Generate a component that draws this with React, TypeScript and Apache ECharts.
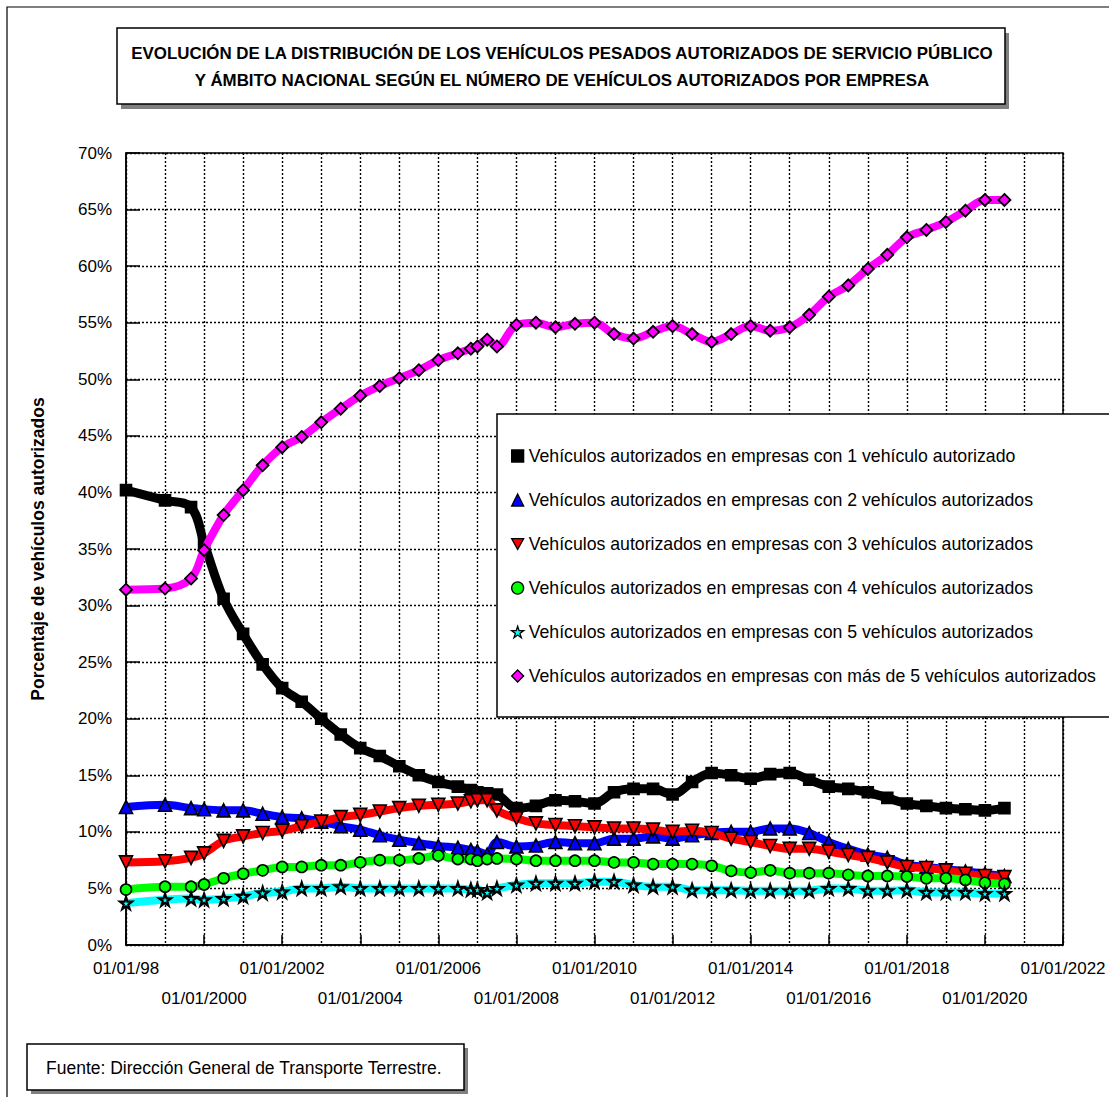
import React, { useEffect, useRef } from "react";
import * as echarts from "echarts";

const FONT = "'Liberation Sans', Arial, sans-serif";

const dates = [
  "1998-01-01", "1999-01-01", "1999-09-01",
  "2000-01-01", "2000-07-01", "2001-01-01", "2001-07-01", "2002-01-01", "2002-07-01",
  "2003-01-01", "2003-07-01", "2004-01-01", "2004-07-01", "2005-01-01", "2005-07-01",
  "2006-01-01", "2006-07-01", "2006-11-01", "2007-01-01", "2007-04-01", "2007-07-01",
  "2008-01-01", "2008-07-01", "2009-01-01", "2009-07-01", "2010-01-01", "2010-07-01",
  "2011-01-01", "2011-07-01", "2012-01-01", "2012-07-01", "2013-01-01", "2013-07-01",
  "2014-01-01", "2014-07-01", "2015-01-01", "2015-07-01", "2016-01-01", "2016-07-01",
  "2017-01-01", "2017-07-01", "2018-01-01", "2018-07-01", "2019-01-01", "2019-07-01",
  "2020-01-01", "2020-07-01",
];

const seriesNames = [
  "Vehículos autorizados en empresas con 1 vehículo autorizado",
  "Vehículos autorizados en empresas con 2 vehículos autorizados",
  "Vehículos autorizados en empresas con 3 vehículos autorizados",
  "Vehículos autorizados en empresas con 4 vehículos autorizados",
  "Vehículos autorizados en empresas con 5 vehículos autorizados",
  "Vehículos autorizados en empresas con más de 5 vehículos autorizados",
];

const one = [
  40.2, 39.3, 38.7, 35.5, 30.6, 27.5, 24.8, 22.7, 21.5, 20.0, 18.6, 17.4, 16.7, 15.8, 15.0,
  14.4, 14.0, 13.7, 13.5, 13.4, 13.3, 12.1, 12.3, 12.8, 12.7, 12.5, 13.5, 13.8, 13.8, 13.3,
  14.4, 15.2, 15.0, 14.7, 15.1, 15.2, 14.6, 14.0, 13.8, 13.5, 13.0, 12.5, 12.3, 12.1, 12.0,
  11.9, 12.1,
];
const two = [
  12.2, 12.4, 12.1, 12.0, 11.9, 11.9, 11.6, 11.3, 11.2, 10.9, 10.5, 10.2, 9.7, 9.3, 9.0,
  8.75, 8.6, 8.4, 8.3, 8.0, 9.1, 8.7, 8.8, 9.1, 9.0, 9.0, 9.4, 9.4, 9.6, 9.4,
  9.7, 9.9, 10.0, 10.0, 10.3, 10.3, 9.9, 9.1, 8.5, 8.0, 7.7, 7.1, 6.9, 6.7, 6.5,
  6.3, 6.1,
];
const three = [
  7.3, 7.4, 7.7, 8.1, 9.2, 9.6, 9.9, 10.1, 10.5, 10.9, 11.3, 11.5, 11.8, 12.1, 12.3,
  12.4, 12.5, 12.7, 12.8, 12.8, 11.9, 11.2, 10.75, 10.6, 10.5, 10.4, 10.3, 10.3, 10.2, 10.0,
  10.1, 9.9, 9.4, 9.1, 8.75, 8.5, 8.5, 8.25, 7.95, 7.7, 7.3, 6.9, 6.8, 6.6, 6.3,
  6.1, 6.0,
];
const four = [
  4.9, 5.15, 5.15, 5.35, 5.9, 6.3, 6.6, 6.9, 6.9, 7.05, 7.05, 7.3, 7.5, 7.5, 7.65,
  7.9, 7.6, 7.6, 7.45, 7.6, 7.65, 7.6, 7.45, 7.45, 7.45, 7.45, 7.3, 7.3, 7.15, 7.15,
  7.15, 7.0, 6.55, 6.4, 6.6, 6.35, 6.35, 6.35, 6.2, 6.1, 6.1, 6.05, 5.9, 5.9, 5.75,
  5.5, 5.4,
];
const five = [
  3.7, 4.0, 4.1, 4.0, 4.1, 4.3, 4.6, 4.7, 5.0, 5.0, 5.15, 5.0, 5.0, 5.0, 5.0,
  5.0, 5.0, 4.9, 4.9, 4.65, 5.0, 5.3, 5.45, 5.45, 5.45, 5.6, 5.6, 5.3, 5.15, 5.15,
  4.85, 4.85, 4.85, 4.8, 4.8, 4.8, 4.8, 5.0, 5.0, 4.8, 4.8, 4.85, 4.65, 4.65, 4.65,
  4.55, 4.55,
];
const more = [
  31.4, 31.5, 32.4, 34.9, 38.0, 40.2, 42.4, 44.0, 44.9, 46.2, 47.4, 48.55, 49.4, 50.1, 50.8,
  51.7, 52.3, 52.7, 52.9, 53.5, 52.9, 54.8, 55.0, 54.6, 54.9, 55.0, 54.0, 53.6, 54.2, 54.7,
  54.0, 53.3, 54.0, 54.7, 54.3, 54.6, 55.7, 57.3, 58.3, 59.75, 61.0, 62.55, 63.2, 63.9, 64.9,
  65.85, 65.85,
];

const yTicks = { min: 0, max: 70, step: 5 };
const xTicks = { min: 1998, max: 2022, step: 2 };

const titleLines = [
  "EVOLUCIÓN DE LA DISTRIBUCIÓN DE LOS VEHÍCULOS PESADOS AUTORIZADOS DE SERVICIO PÚBLICO",
  "Y ÁMBITO NACIONAL SEGÚN EL NÚMERO DE VEHÍCULOS AUTORIZADOS POR EMPRESA",
];
const yAxisTitle = "Porcentaje de vehículos autorizados";
const sourceNote = "Fuente: Dirección General de Transporte Terrestre.";

const colors = ["#000000", "#0000FF", "#FF0000", "#00FF00", "#00FFFF", "#FF00FF"];
const INV_TRI = "path://M0,0 L10,0 L5,9 Z";
const STAR =
  "path://M5,0 L6.2,3.6 L10,3.6 L6.9,5.9 L8.1,9.5 L5,7.3 L1.9,9.5 L3.1,5.9 L0,3.6 L3.8,3.6 Z";
const symbols = ["rect", "triangle", INV_TRI, "circle", STAR, "diamond"];
const symbolSizes = [11, 13, 13, 11, 12, 12];
const borderWidths = [1.6, 1.6, 1.6, 1.6, 2.2, 1.8];

function toYear(d: string): number {
  const [y, m] = d.split("-").map(Number);
  return y + (m - 1) / 12;
}

function dateLabel(yr: number): string {
  return yr === 1998 ? "01/01/98" : "01/01/" + yr;
}

export default function App() {
  const ref = useRef<HTMLDivElement>(null);

  useEffect(() => {
    if (!ref.current) return;
    const chart = echarts.init(ref.current, null, { renderer: "svg" });
    const xs = dates.map(toYear);
    const allValues = [one, two, three, four, five, more];

    const dotted = { color: "#000", width: 1.4, type: [2, 2] as any };

    const series = allValues.map((vals, i) => ({
      name: seriesNames[i],
      type: "line",
      xAxisIndex: 0,
      data: xs.map((x, k) => [x, vals[k]]),
      smooth: 0.35,
      symbol: symbols[i],
      symbolSize: symbolSizes[i],
      showAllSymbol: true,
      silent: true,
      lineStyle: { color: colors[i], width: i === 0 ? 9 : 8 },
      itemStyle: { color: colors[i], borderColor: "#000", borderWidth: borderWidths[i] },
      emphasis: { disabled: true },
      z: 2 + i,
    }));

    const labelBase = {
      color: "#000",
      fontSize: 17,
      fontFamily: FONT,
      showMinLabel: true,
      showMaxLabel: true,
    };

    chart.setOption({
      animation: false,
      backgroundColor: "#fff",
      textStyle: { fontFamily: FONT },
      grid: {
        left: 126,
        right: 46,
        top: 153,
        bottom: 152,
        show: true,
        borderColor: "#000",
        borderWidth: 1.5,
        containLabel: false,
      },
      xAxis: [
        {
          type: "value",
          min: xTicks.min,
          max: xTicks.max,
          interval: xTicks.step,
          axisLine: { show: true, lineStyle: { color: "#000", width: 1.5 } },
          axisTick: { show: true, inside: true, length: 10, lineStyle: { color: "#000", width: 1.5 } },
          minorTick: { show: false, splitNumber: 2 },
          minorSplitLine: { show: true, lineStyle: dotted },
          splitLine: { show: true, lineStyle: dotted },
          axisLabel: {
            ...labelBase,
            margin: 15,
            formatter: (v: number) => {
              const yr = Math.round(v);
              return (yr - 1998) % 4 === 0 ? dateLabel(yr) : "";
            },
          },
        },
        {
          type: "value",
          position: "bottom",
          min: xTicks.min,
          max: xTicks.max,
          interval: xTicks.step,
          axisLine: { show: false },
          axisTick: { show: false },
          splitLine: { show: false },
          axisLabel: {
            ...labelBase,
            margin: 45,
            formatter: (v: number) => {
              const yr = Math.round(v);
              return (yr - 1998) % 4 === 0 ? "" : dateLabel(yr);
            },
          },
        },
      ],
      yAxis: {
        type: "value",
        min: yTicks.min,
        max: yTicks.max,
        interval: yTicks.step,
        name: yAxisTitle,
        nameLocation: "middle",
        nameRotate: 90,
        nameGap: 79,
        nameTextStyle: { fontSize: 17.5, fontWeight: "bold", color: "#000", fontFamily: FONT },
        axisLine: { show: true, lineStyle: { color: "#000", width: 1.5 } },
        axisTick: { show: true, inside: true, length: 14, lineStyle: { color: "#000", width: 1.5 } },
        splitLine: { show: true, lineStyle: dotted },
        axisLabel: {
          color: "#000",
          fontSize: 17,
          fontFamily: FONT,
          margin: 14,
          formatter: (v: number) => v + "%",
        },
      },
      legend: {
        show: true,
        orient: "vertical",
        left: 497,
        top: 414,
        backgroundColor: "#fff",
        borderColor: "#000",
        borderWidth: 1.5,
        padding: [33, 40, 32, 14],
        itemGap: 26,
        itemWidth: 12,
        itemHeight: 12,
        selectedMode: false,
        itemStyle: { borderColor: "#000", borderWidth: 1.3 },
        textStyle: { fontSize: 17.7, lineHeight: 18, color: "#000", fontFamily: FONT },
        data: seriesNames.map((n, i) => ({ name: n, icon: symbols[i] })),
      },
      graphic: [
        {
          type: "rect",
          shape: { x: 7, y: 7, width: 1300, height: 1300 },
          style: { fill: "none", stroke: "#000", lineWidth: 1.2 },
          silent: true,
          z: 0,
        },
        {
          type: "rect",
          shape: { x: 121, y: 33, width: 888, height: 76 },
          style: { fill: "#808080" },
          silent: true,
        },
        {
          type: "rect",
          shape: { x: 117, y: 28, width: 888, height: 76 },
          style: { fill: "#fff", stroke: "#000", lineWidth: 1.5 },
          silent: true,
        },
        {
          type: "text",
          x: 562,
          y: 53,
          style: {
            text: titleLines[0],
            fill: "#000",
            font: "bold 16.9px " + FONT,
            textAlign: "center",
            textVerticalAlign: "middle",
          },
          silent: true,
        },
        {
          type: "text",
          x: 562,
          y: 80,
          style: {
            text: titleLines[1],
            fill: "#000",
            font: "bold 16.9px " + FONT,
            textAlign: "center",
            textVerticalAlign: "middle",
          },
          silent: true,
        },
        {
          type: "rect",
          shape: { x: 31, y: 1048, width: 437, height: 46 },
          style: { fill: "#808080" },
          silent: true,
        },
        {
          type: "rect",
          shape: { x: 27, y: 1044, width: 437, height: 46 },
          style: { fill: "#fff", stroke: "#000", lineWidth: 1.5 },
          silent: true,
        },
        {
          type: "text",
          x: 46,
          y: 1068,
          style: {
            text: sourceNote,
            fill: "#000",
            font: "17.5px " + FONT,
            textAlign: "left",
            textVerticalAlign: "middle",
          },
          silent: true,
        },
      ],
      series,
    });

    return () => chart.dispose();
  }, []);

  return (
    <div
      ref={ref}
      style={{ position: "absolute", left: 0, top: 0, width: 1109, height: 1097, background: "#fff" }}
    />
  );
}
